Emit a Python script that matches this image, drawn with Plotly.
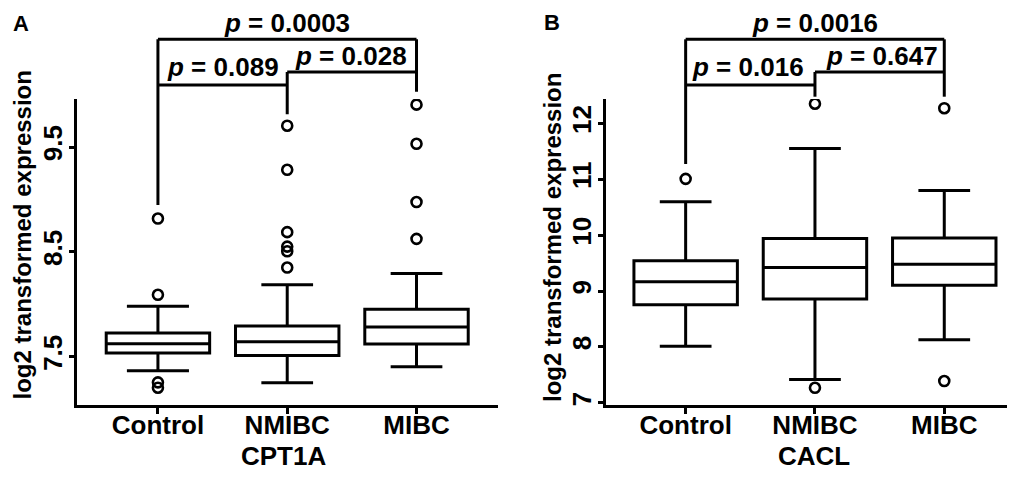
import plotly.graph_objects as go

# ---------------- data ----------------
groups = ["Control", "NMIBC", "MIBC"]

cpt1a_q1 = [7.535, 7.510, 7.621]
cpt1a_median = [7.624, 7.643, 7.784]
cpt1a_q3 = [7.726, 7.793, 7.953]
cpt1a_lower = [7.366, 7.252, 7.404]
cpt1a_upper = [7.980, 8.185, 8.293]
cpt1a_outliers_control = [8.818, 8.090, 7.255, 7.204]
cpt1a_outliers_nmibc = [9.703, 9.283, 8.688, 8.550, 8.505, 8.350]
cpt1a_outliers_mibc = [9.904, 9.531, 8.975, 8.624]

cacl_q1 = [8.753, 8.860, 9.105]
cacl_median = [9.165, 9.420, 9.480]
cacl_q3 = [9.540, 9.940, 9.950]
cacl_lower = [8.014, 7.420, 8.127]
cacl_upper = [10.596, 11.550, 10.800]
cacl_outliers_control = [11.007]
cacl_outliers_nmibc = [12.350, 7.270]
cacl_outliers_mibc = [12.270, 7.390]

cpt1a_p = ["0.089", "0.028", "0.0003"]   # Ctrl-NMIBC, NMIBC-MIBC, Ctrl-MIBC
cacl_p = ["0.016", "0.647", "0.0016"]

cpt1a_ticks = [7.5, 8.5, 9.5]
cacl_ticks = [7, 8, 9, 10, 11, 12]

# ---------------- layout helpers ----------------
OFF = 8                       # default page body margin
W, H = 1015 - OFF, 480 - OFF
TOP, BOTTOM = 99, 405         # plot area pixel bounds (window coordinates)
FONT = "Liberation Sans, Arial, sans-serif"


def py(px):
    """window pixel row -> paper y"""
    return (BOTTOM - px) / (BOTTOM - TOP)


def pxx(px):
    """window pixel column -> paper x"""
    return (px - OFF) / W


fig = go.Figure()

panels = [
    dict(xa="x", ya="y", q1=cpt1a_q1, med=cpt1a_median, q3=cpt1a_q3,
         lo=cpt1a_lower, up=cpt1a_upper,
         outs=[cpt1a_outliers_control, cpt1a_outliers_nmibc, cpt1a_outliers_mibc],
         ww=[0.6, 0.5, 0.5]),
    dict(xa="x2", ya="y2", q1=cacl_q1, med=cacl_median, q3=cacl_q3,
         lo=cacl_lower, up=cacl_upper,
         outs=[cacl_outliers_control, cacl_outliers_nmibc, cacl_outliers_mibc],
         ww=[0.5, 0.5, 0.5]),
]

for p in panels:
    for i, g in enumerate(groups):
        fig.add_trace(go.Box(
            x=[g], q1=[p["q1"][i]], median=[p["med"][i]], q3=[p["q3"][i]],
            lowerfence=[p["lo"][i]], upperfence=[p["up"][i]],
            width=0.8, whiskerwidth=p["ww"][i], boxpoints=False,
            line=dict(color="black", width=3), fillcolor="white",
            xaxis=p["xa"], yaxis=p["ya"], showlegend=False, hoverinfo="skip"))
        fig.add_trace(go.Scatter(
            x=[g] * len(p["outs"][i]), y=p["outs"][i], mode="markers",
            marker=dict(symbol="circle-open", size=10, color="black",
                        line=dict(width=2.6, color="black")),
            xaxis=p["xa"], yaxis=p["ya"], showlegend=False, hoverinfo="skip"))

axis_common = dict(showline=True, linewidth=3, linecolor="black", ticks="outside",
                   tickcolor="black", showgrid=False, zeroline=False,
                   tickfont=dict(family=FONT, size=26, color="black", weight="bold"))

fig.update_layout(
    width=W, height=H,
    margin=dict(l=0, r=0, t=TOP - OFF, b=H - (BOTTOM - OFF)),
    plot_bgcolor="white", paper_bgcolor="white",
    boxmode="overlay",
    xaxis=dict(**axis_common, domain=[pxx(77), pxx(497.7)], type="category",
               categoryorder="array", categoryarray=groups,
               range=[-0.626, 2.628], ticklen=6, tickwidth=2.5, anchor="y",
               ticklabelstandoff=-11),
    yaxis=dict(**axis_common, domain=[0, 1], range=[7.039, 9.958],
               tickvals=cpt1a_ticks, ticktext=[str(t) for t in cpt1a_ticks],
               tickangle=-90, ticklen=5, tickwidth=2.5, anchor="x",
               ticklabelstandoff=-3),
    xaxis2=dict(**axis_common, domain=[pxx(606), 1.0], type="category",
                categoryorder="array", categoryarray=groups,
                range=[-0.616, 2.547], ticklen=6, tickwidth=2.5, anchor="y2",
                ticklabelstandoff=-11),
    yaxis2=dict(**axis_common, domain=[0, 1], range=[6.962, 12.435],
                tickvals=cacl_ticks, ticktext=[str(t) for t in cacl_ticks],
                tickangle=-90, ticklen=5, tickwidth=2.5, anchor="x2",
                ticklabelstandoff=-3),
)

# brackets
line = dict(color="black", width=3)
bracket_sets = [
    ("x", cpt1a_p, dict(ctrl_leg=205, nm_leg=114.3, mi_leg=91.7)),
    ("x2", cacl_p, dict(ctrl_leg=164, nm_leg=96.7, mi_leg=96.7)),
]
Y_TOP, Y_CN, Y_NM = 39.3, 85, 72
annotations = []
for xa, pv, legs in bracket_sets:
    segs = [
        # Control - MIBC
        ("Control", py(legs["ctrl_leg"]), "Control", py(Y_TOP)),
        ("Control", py(Y_TOP), "MIBC", py(Y_TOP)),
        ("MIBC", py(Y_TOP), "MIBC", py(legs["mi_leg"])),
        # Control - NMIBC
        ("Control", py(Y_CN), "NMIBC", py(Y_CN)),
        ("NMIBC", py(Y_NM), "NMIBC", py(legs["nm_leg"])),
        # NMIBC - MIBC
        ("NMIBC", py(Y_NM), "MIBC", py(Y_NM)),
    ]
    for x0, y0, x1, y1 in segs:
        fig.add_shape(type="line", xref=xa, yref="paper", x0=x0, y0=y0, x1=x1, y1=y1,
                      line=line)


def ann(text, x, y, size=26, angle=0):
    annotations.append(dict(text=text, x=pxx(x), y=py(y), xref="paper", yref="paper",
                            showarrow=False, xanchor="center", yanchor="middle",
                            textangle=angle,
                            font=dict(family=FONT, size=size, color="black")))


# p-values panel A
ann(f"<b><i>p</i> = {cpt1a_p[2]}</b>", 286.7, 23)
ann(f"<b><i>p</i> = {cpt1a_p[0]}</b>", 222.5, 67)
ann(f"<b><i>p</i> = {cpt1a_p[1]}</b>", 351, 56)
# p-values panel B
ann(f"<b><i>p</i> = {cacl_p[2]}</b>", 815, 23)
ann(f"<b><i>p</i> = {cacl_p[0]}</b>", 748, 67)
ann(f"<b><i>p</i> = {cacl_p[1]}</b>", 881.7, 56)

# panel letters
ann("<b>A</b>", 20.5, 23, size=22)
ann("<b>B</b>", 551.7, 22.5, size=22)

# y titles
ann("<b>log2 transformed expression</b>", 22, 235.5, size=24, angle=-90)
ann("<b>log2 transformed expression</b>", 552, 238, size=24, angle=-90)

# x titles
ann("<b>CPT1A</b>", 283, 456)
ann("<b>CACL</b>", 814, 456)

fig.update_layout(annotations=annotations)

fig.write_html("out.html")
